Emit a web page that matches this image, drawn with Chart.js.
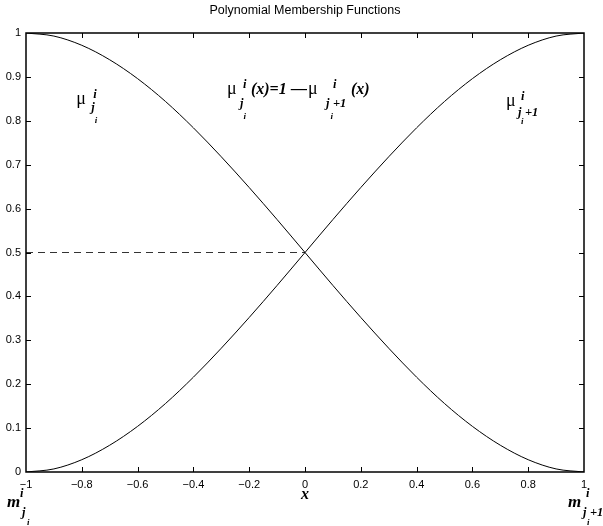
<!DOCTYPE html>
<html>
<head>
<meta charset="utf-8">
<script src="https://cdn.jsdelivr.net/npm/chart.js@4/dist/chart.umd.min.js"></script>
<style>
  html, body { margin: 0; padding: 0; background: #fff; }
  #c { display: block; }
</style>
</head>
<body>
<canvas id="c" width="603" height="526"></canvas>
<script>
// Sample positions along x
const xValues = [-1, -0.9, -0.8, -0.7, -0.6, -0.5, -0.4, -0.3, -0.2, -0.1, 0,
                 0.1, 0.2, 0.3, 0.4, 0.5, 0.6, 0.7, 0.8, 0.9, 1];
// Falling membership function mu_{j_i}
const muFalling = [1, 0.993, 0.972, 0.939, 0.896, 0.844, 0.784, 0.718, 0.648, 0.575, 0.5,
                   0.425, 0.352, 0.282, 0.216, 0.156, 0.104, 0.061, 0.028, 0.007, 0];
// Rising membership function mu_{j_i+1}
const muRising = [0, 0.007, 0.028, 0.061, 0.104, 0.156, 0.216, 0.282, 0.352, 0.425, 0.5,
                  0.575, 0.648, 0.718, 0.784, 0.844, 0.896, 0.939, 0.972, 0.993, 1];
// Dashed guide at the crossing level
const guideX = [-1, 0];
const guideY = [0.5, 0.5];
// Axis ticks
const xTicks = [-1, -0.8, -0.6, -0.4, -0.2, 0, 0.2, 0.4, 0.6, 0.8, 1];
const yTicks = [0, 0.1, 0.2, 0.3, 0.4, 0.5, 0.6, 0.7, 0.8, 0.9, 1];

const SANS = '"Liberation Sans", Arial, Helvetica, sans-serif';
const SERIF = '"Liberation Serif", "Times New Roman", serif';

const toPoints = (xs, ys) => xs.map((v, i) => ({ x: v, y: ys[i] }));
const fmt = v => {
  const r = Math.round(v * 10) / 10;
  return String(r).replace('-', '\u2212');
};

// Box around the plot with inward tick marks on all four sides
const frame = {
  id: 'frame',
  afterDatasetsDraw(chart) {
    const { ctx, chartArea: a, scales: { x, y } } = chart;
    ctx.save();
    ctx.strokeStyle = '#000';
    ctx.lineWidth = 1;
    ctx.beginPath();
    xTicks.slice(1, -1).forEach(v => {
      const px = Math.round(x.getPixelForValue(v)) + 0.5;
      ctx.moveTo(px, a.bottom); ctx.lineTo(px, a.bottom - 5);
      ctx.moveTo(px, a.top); ctx.lineTo(px, a.top + 5);
    });
    yTicks.slice(1, -1).forEach(v => {
      const py = Math.round(y.getPixelForValue(v)) + 0.5;
      ctx.moveTo(a.left, py); ctx.lineTo(a.left + 5, py);
      ctx.moveTo(a.right, py); ctx.lineTo(a.right - 5, py);
    });
    ctx.stroke();
    ctx.lineWidth = 1.5;
    ctx.strokeRect(a.left, a.top, a.right - a.left, a.bottom - a.top);
    ctx.restore();
  }
};

// Mathematical labels: each part is placed at (anchor + dx, baseline + dy)
const F = {
  mu: '18px ' + SERIF,
  big: 'italic bold 16px ' + SERIF,
  m: 'italic bold 17px ' + SERIF,
  sub: 'italic bold 12.5px ' + SERIF,
  subsub: 'italic bold 9px ' + SERIF
};
function drawParts(ctx, x0, y0, parts) {
  parts.forEach(p => {
    ctx.font = F[p.f];
    ctx.fillText(p.t, x0 + p.dx, y0 + p.dy);
  });
}
const notation = {
  id: 'notation',
  afterDraw(chart) {
    const { ctx, chartArea: a, scales: { x, y } } = chart;
    ctx.save();
    ctx.fillStyle = '#000';
    ctx.textAlign = 'left';
    ctx.textBaseline = 'alphabetic';

    // mu^i_{j_i}
    drawParts(ctx, x.getPixelForValue(-0.82), y.getPixelForValue(0.838), [
      { t: '\u03BC', f: 'mu', dx: 0, dy: 0 },
      { t: 'i', f: 'sub', dx: 17, dy: -6 },
      { t: 'j', f: 'sub', dx: 15, dy: 7 },
      { t: 'i', f: 'subsub', dx: 18.5, dy: 19 }
    ]);

    // mu^i_{j_i}(x)=1-mu^i_{j_i+1}(x)
    drawParts(ctx, x.getPixelForValue(-0.28), y.getPixelForValue(0.862), [
      { t: '\u03BC', f: 'mu', dx: 0, dy: 0 },
      { t: 'i', f: 'sub', dx: 16, dy: -6 },
      { t: 'j', f: 'sub', dx: 13, dy: 13 },
      { t: 'i', f: 'subsub', dx: 16.5, dy: 25 },
      { t: '(x)=1', f: 'big', dx: 24, dy: 0 },
      { t: '\u2014', f: 'big', dx: 64, dy: 0 },
      { t: '\u03BC', f: 'mu', dx: 81, dy: 0 },
      { t: 'i', f: 'sub', dx: 106, dy: -6 },
      { t: 'j', f: 'sub', dx: 99, dy: 13 },
      { t: '+1', f: 'sub', dx: 106, dy: 13 },
      { t: 'i', f: 'subsub', dx: 103.5, dy: 25 },
      { t: '(x)', f: 'big', dx: 124, dy: 0 }
    ]);

    // mu^i_{j_i+1}
    drawParts(ctx, x.getPixelForValue(0.72), y.getPixelForValue(0.834), [
      { t: '\u03BC', f: 'mu', dx: 0, dy: 0 },
      { t: 'i', f: 'sub', dx: 15, dy: -6 },
      { t: 'j', f: 'sub', dx: 12, dy: 10 },
      { t: '+1', f: 'sub', dx: 19, dy: 10 },
      { t: 'i', f: 'subsub', dx: 15, dy: 18 }
    ]);

    // Interval end points under the axis
    const base = a.bottom + 35;
    drawParts(ctx, a.left - 19, base, [
      { t: 'm', f: 'm', dx: 0, dy: 0 },
      { t: 'i', f: 'sub', dx: 13, dy: -10 },
      { t: 'j', f: 'sub', dx: 15, dy: 9 },
      { t: 'i', f: 'subsub', dx: 20, dy: 18 }
    ]);
    drawParts(ctx, a.right - 16, base, [
      { t: 'm', f: 'm', dx: 0, dy: 0 },
      { t: 'i', f: 'sub', dx: 18, dy: -10 },
      { t: 'j', f: 'sub', dx: 15, dy: 9 },
      { t: '+1', f: 'sub', dx: 22, dy: 9 },
      { t: 'i', f: 'subsub', dx: 19, dy: 18 }
    ]);

    // Axis variable
    ctx.textAlign = 'center';
    ctx.font = F.big;
    ctx.fillText('x', x.getPixelForValue(0), a.bottom + 27);
    ctx.restore();
  }
};

const zeroPad = s => { s.paddingLeft = 0; s.paddingRight = 0; s.paddingTop = 0; s.paddingBottom = 0; };

new Chart(document.getElementById('c'), {
  type: 'line',
  data: {
    datasets: [
      { data: toPoints(xValues, muFalling), borderColor: '#000', borderWidth: 1,
        pointRadius: 0, cubicInterpolationMode: 'monotone' },
      { data: toPoints(xValues, muRising), borderColor: '#000', borderWidth: 1,
        pointRadius: 0, cubicInterpolationMode: 'monotone' },
      { data: toPoints(guideX, guideY), borderColor: '#333', borderWidth: 1,
        borderDash: [7, 5], pointRadius: 0 }
    ]
  },
  options: {
    responsive: false,
    animation: false,
    devicePixelRatio: 1,
    layout: { padding: { left: 0, right: 19, top: 0, bottom: 0 } },
    plugins: {
      legend: { display: false },
      tooltip: { enabled: false },
      title: {
        display: true,
        fullSize: false,
        text: 'Polynomial Membership Functions',
        color: '#000',
        font: { family: SANS, size: 12.5, weight: 'normal' },
        padding: { top: 3, bottom: 15 }
      }
    },
    scales: {
      x: {
        type: 'linear',
        min: -1, max: 1,
        grid: { display: false, drawTicks: false },
        border: { display: false },
        afterBuildTicks: s => { s.ticks = xTicks.map(v => ({ value: v })); },
        afterFit: s => { s.height = 54; zeroPad(s); },
        ticks: {
          color: '#000', padding: 6, maxRotation: 0, autoSkip: false,
          font: { family: SANS, size: 11 },
          callback: v => fmt(v)
        }
      },
      y: {
        type: 'linear',
        min: 0, max: 1,
        grid: { display: false, drawTicks: false },
        border: { display: false },
        afterBuildTicks: s => { s.ticks = yTicks.map(v => ({ value: v })); },
        afterFit: s => { s.width = 26; zeroPad(s); },
        ticks: {
          color: '#000', padding: 5, autoSkip: false,
          font: { family: SANS, size: 11 },
          callback: v => fmt(v)
        }
      }
    }
  },
  plugins: [frame, notation]
});
</script>
</body>
</html>
